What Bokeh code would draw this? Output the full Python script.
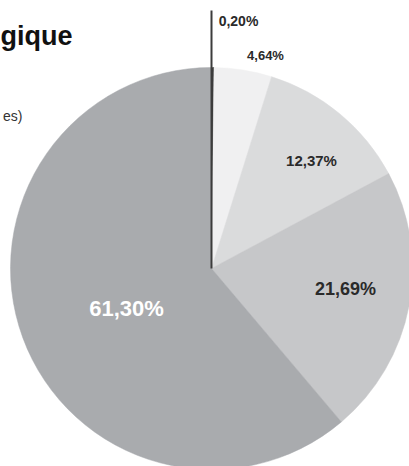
import math
from bokeh.plotting import figure
from bokeh.models import Range1d, ColumnDataSource
from bokeh.core.properties import value
from bokeh.embed import file_html
from bokeh.resources import INLINE

# ---- data ----
labels = ["0,20%", "4,64%", "12,37%", "21,69%", "61,30%"]
shares = [0.20, 4.64, 12.37, 21.69, 61.30]
colors = ["#3c3c3c", "#f0f0f1", "#dadbdc", "#c6c7c9", "#a9abae"]

# ---- layout (pixel-like data space) ----
W, H = 409, 466
CX, CY, R = 211, 198, 201
label_x = [238, 265, 311, 345, 126]
label_y = [446, 411, 306, 178, 158]
label_colors = ["#2a2a2a", "#2a2a2a", "#2a2a2a", "#2a2a2a", "#ffffff"]
label_sizes = ["14px", "13px", "15px", "18px", "22px"]

total = sum(shares)
starts, ends = [], []
acc = 0.0
for s in shares:
    starts.append(math.pi / 2 - 2 * math.pi * acc / total)
    acc += s
    ends.append(math.pi / 2 - 2 * math.pi * acc / total)

p = figure(width=W, height=H, output_backend="svg", toolbar_location=None,
           x_range=Range1d(0, W), y_range=Range1d(0, H), min_border=0)
p.axis.visible = False
p.grid.visible = False
p.outline_line_color = None
p.background_fill_color = "white"

src = ColumnDataSource(dict(start=starts, end=ends, color=colors,
                            x=[CX] * len(shares), y=[CY] * len(shares)))
p.wedge(x="x", y="y", radius=R, start_angle="start", end_angle="end",
        direction="clock", fill_color="color", line_color="color",
        line_width=0.5, source=src)

# leader line for the tiny slice
p.segment(x0=[CX], y0=[CY], x1=[CX], y1=[456], line_color="#3c3c3c", line_width=2)

lsrc = ColumnDataSource(dict(x=label_x, y=label_y, t=labels, c=label_colors, s=label_sizes))
p.text(x="x", y="y", text="t", text_color="c", text_font_size="s",
       text_font=value("Liberation Sans"), text_font_style="bold",
       text_align="center", text_baseline="middle", source=lsrc)

# cropped title / subtitle fragments
p.text(x=[0], y=[431], text=["gique"], text_font=value("Liberation Sans"),
       text_font_style="bold", text_font_size="27px", text_color="#111111",
       text_align="left", text_baseline="alphabetic")
p.text(x=[22], y=[351], text=["es)"], text_font=value("Liberation Sans"),
       text_font_size="14px", text_color="#333333",
       text_align="right", text_baseline="middle")

open("out.html", "w").write(file_html(p, INLINE))
